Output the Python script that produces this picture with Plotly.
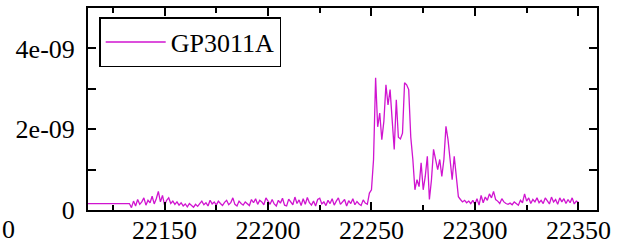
import plotly.graph_objects as go

# x positions (residue / frame index) and values in units of 1e-10
x_start = 22113
values = [
    # 22113-22133 flat baseline
    1.6, 1.6, 1.6, 1.6, 1.6, 1.6, 1.6, 1.6, 1.6, 1.6,
    1.6, 1.6, 1.6, 1.6, 1.6, 1.6, 1.6, 1.6, 1.6, 1.6, 1.6,
    # 22134-22150
    0.6, 2.2, 1.0, 2.6, 1.4, 2.0, 3.0, 1.2, 2.4, 1.8, 3.4, 1.5, 2.8, 4.6, 2.0, 3.6, 1.2,
    # 22151-22170
    2.4, 3.0, 1.6, 2.2, 1.4, 2.0, 1.2, 1.8, 1.0, 1.5, 0.8, 1.6, 1.2, 0.7, 1.4, 0.9, 1.6, 2.2, 1.3, 1.8,
    # 22171-22190
    1.0, 2.4, 1.5, 2.0, 1.2, 2.2, 1.6, 1.1, 1.9, 2.4, 1.3, 1.8, 3.0, 1.4, 1.0, 2.2, 1.6, 1.2, 2.0, 1.5,
    # 22191-22210
    1.1, 2.6, 1.8, 2.8, 1.4, 2.4, 2.0, 1.3, 3.0, 2.2, 1.4, 2.6, 1.5, 1.0, 2.4, 1.7, 2.9, 1.2, 1.0, 2.7,
    # 22211-22230
    2.0, 1.3, 3.2, 1.6, 2.5, 1.1, 2.8, 1.4, 3.1, 1.8, 1.2, 2.2, 1.0, 2.6, 2.9, 1.5, 2.0, 1.1, 2.4, 1.6,
    # 22231-22249
    2.8, 1.2, 2.2, 3.0, 1.4, 1.9, 2.6, 1.0, 2.3, 1.6, 2.8, 1.3, 2.1, 1.5, 1.1, 2.5, 1.7, 1.4, 4.2,
    # 22250-22270 (main peak)
    5.0, 12.5, 32.7, 20.6, 24.0, 17.4, 22.0, 31.0, 26.0, 29.8, 22.3, 15.0, 27.3, 18.0, 17.6, 19.0,
    31.5, 31.0, 29.8, 18.0, 12.5,
    # 22271-22292 (secondary structure)
    5.0, 7.5, 5.8, 11.7, 5.0, 8.3, 13.3, 2.6, 7.5, 15.0, 12.5, 10.0, 12.5, 8.3, 12.5, 20.7, 17.4,
    12.5, 7.5, 13.3, 8.3, 3.3,
    # 22293-22310
    2.6, 2.0, 2.4, 1.8, 2.2, 1.6, 2.4, 1.4, 2.8, 1.2, 3.6, 1.8, 3.2, 2.4, 4.0, 3.0, 4.6, 2.6,
    # 22311-22330
    2.2, 1.6, 2.8, 2.0, 1.6, 1.4, 1.7, 1.3, 2.0, 1.5, 1.2, 2.4, 1.8, 4.0, 2.2, 3.0, 1.6, 2.6, 2.0, 3.0,
    # 22331-22350
    1.8, 2.4, 1.6, 3.0, 2.2, 1.5, 3.2, 2.0, 2.6, 1.4, 3.0, 2.0, 2.8, 1.6, 2.6, 1.8, 3.0, 1.5, 2.2, 1.9,
]
x_values = list(range(x_start, x_start + len(values)))

series_name = "GP3011A"
x_tick_vals = [22150, 22200, 22250, 22300, 22350]
x_tick_text = ["22150", "22200", "22250", "22300", "22350"]
y_tick_vals = [0, 20, 40]
y_tick_text = ["0", "2e-09", "4e-09"]

font_family = "Liberation Serif, Times New Roman, serif"

fig = go.Figure()
fig.add_trace(go.Scatter(
    x=x_values, y=values, mode="lines", name=series_name,
    line=dict(color="#d014d0", width=1.3),
))

axis_common = dict(
    showline=True, linecolor="black", linewidth=2, mirror="allticks",
    ticks="inside", tickcolor="black", tickwidth=1.5, ticklen=8,
    showgrid=False, zeroline=False, automargin=False,
    tickfont=dict(family=font_family, size=26, color="black"),
)

fig.update_layout(
    width=617, height=244,
    margin=dict(l=88, r=20, t=8, b=34),
    paper_bgcolor="white", plot_bgcolor="white",
    showlegend=True,
    legend=dict(
        x=0.022, y=0.955, xanchor="left", yanchor="top",
        bordercolor="black", borderwidth=1.5, bgcolor="white",
        font=dict(family=font_family, size=26, color="black"),
        itemwidth=60,
    ),
    xaxis=dict(
        range=[22113, 22359], tickvals=x_tick_vals, ticktext=x_tick_text,
        minor=dict(tickvals=[22125, 22175, 22225, 22275, 22325], ticks="inside", ticklen=5, tickcolor="black", tickwidth=1.5),
        ticklabelstandoff=-4,
        **axis_common,
    ),
    yaxis=dict(
        range=[0, 50], tickvals=y_tick_vals, ticktext=y_tick_text,
        minor=dict(tickvals=[10, 30], ticks="inside", ticklen=8, tickcolor="black", tickwidth=1.5),
        ticklabelstandoff=6,
        **axis_common,
    ),
    annotations=[dict(
        text="0", x=0, y=0, xref="paper", yref="paper",
        xshift=-88, yshift=-3, xanchor="left", yanchor="top",
        showarrow=False, font=dict(family=font_family, size=26, color="black"),
    )],
)

fig.write_html("out.html", config={"displayModeBar": False},
               post_script="document.body.style.margin='0';")
